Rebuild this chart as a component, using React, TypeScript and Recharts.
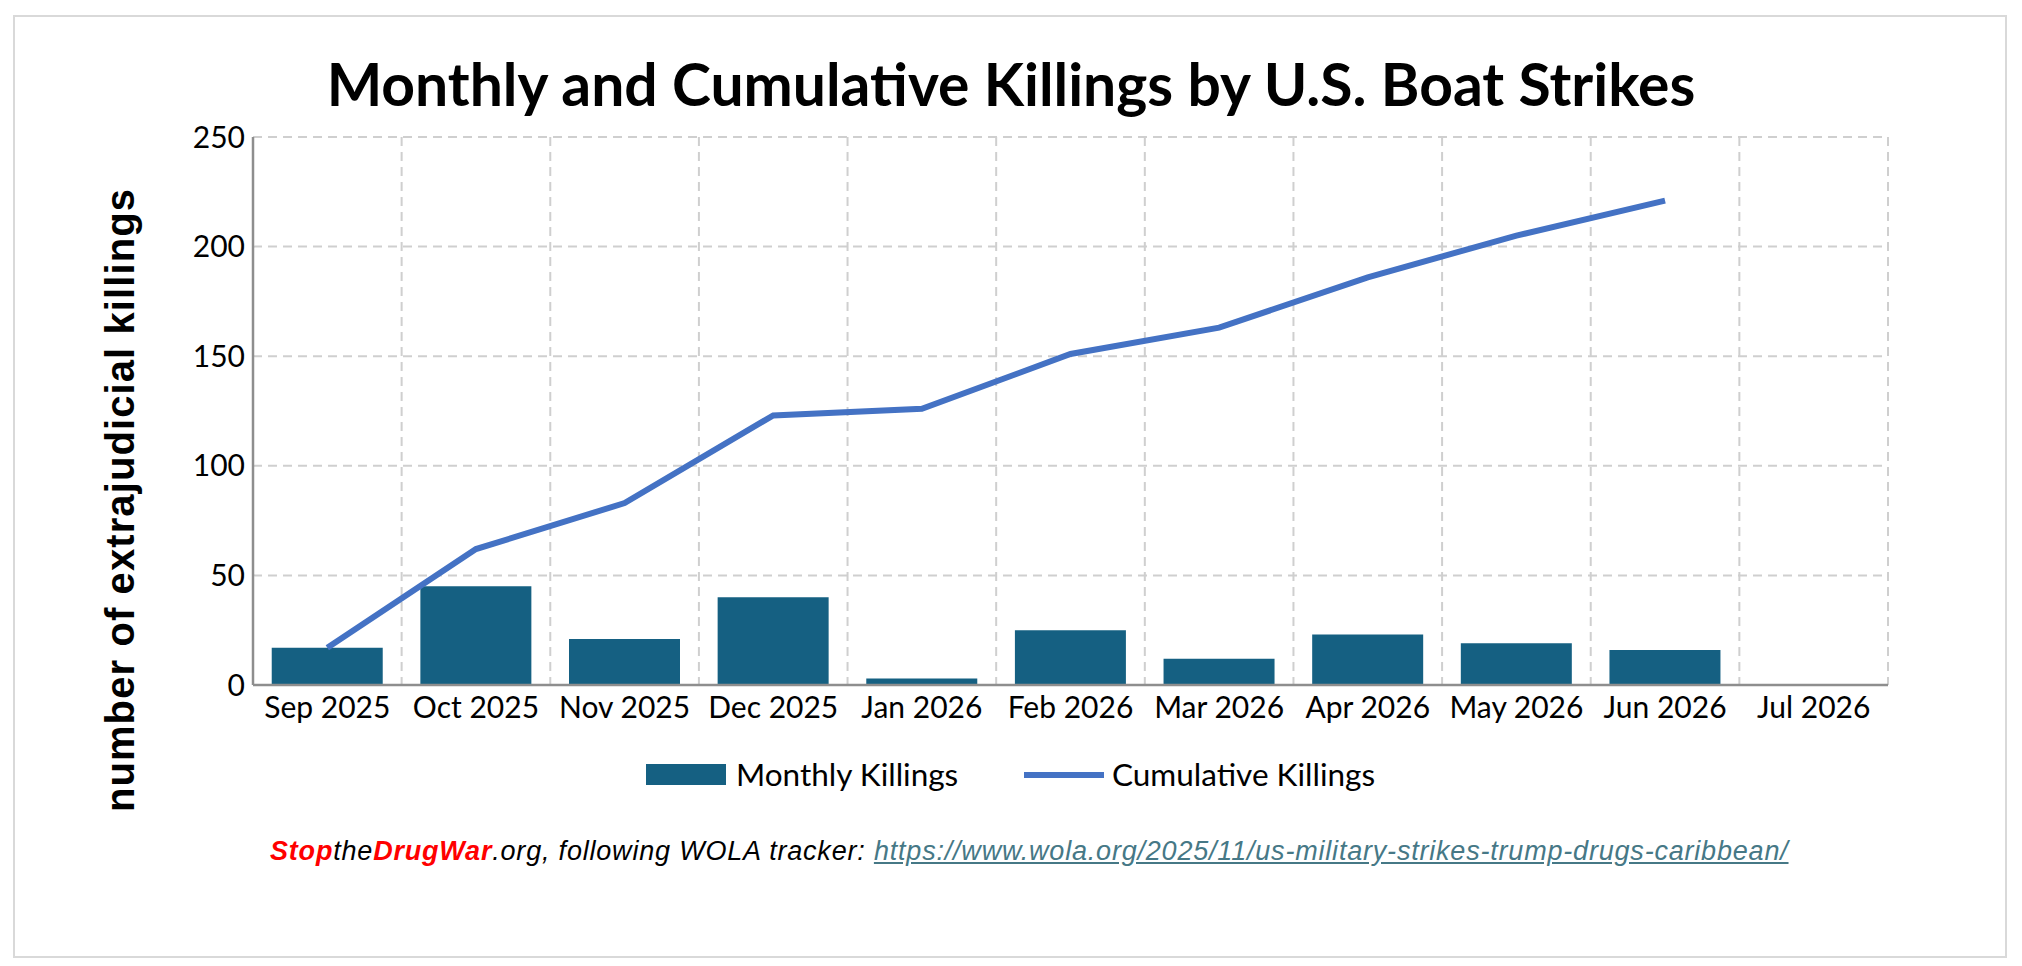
import React from 'react'
import { ComposedChart, Bar, Line, XAxis, YAxis, CartesianGrid } from 'recharts'

const months = [
  'Sep 2025',
  'Oct 2025',
  'Nov 2025',
  'Dec 2025',
  'Jan 2026',
  'Feb 2026',
  'Mar 2026',
  'Apr 2026',
  'May 2026',
  'Jun 2026',
  'Jul 2026',
]
const monthlyKillings = [17, 45, 21, 40, 3, 25, 12, 23, 19, 16, null]
const cumulativeKillings = [17, 62, 83, 123, 126, 151, 163, 186, 205, 221, null]
const yTicks = [0, 50, 100, 150, 200, 250]

const seriesNames = { monthly: 'Monthly Killings', cumulative: 'Cumulative Killings' }
const barColor = '#156082'
const lineColor = '#4472c4'

const data = months.map((month, i) => ({
  month,
  monthly: monthlyKillings[i],
  cumulative: cumulativeKillings[i],
}))

const W = 2022
const H = 966
const yAxisWidth = 80
const xAxisHeight = 50

const tickStyle = { fontFamily: 'Lato', fontSize: 30, fill: '#000' }

// vertical grid lines sit on the category boundaries, not the centres
const boundaryLines = ({ offset }: any) =>
  months.map((_, i) => offset.left + ((i + 1) * offset.width) / months.length)

export default function App() {
  return (
    <div style={{ position: 'absolute', left: 0, top: 0, width: W, height: H, background: '#fff' }}>
      <div
        style={{
          position: 'absolute',
          left: 13,
          top: 15,
          width: 1990,
          height: 939,
          border: '2px solid #d9d9d9',
        }}
      />
      <div
        style={{
          position: 'absolute',
          left: 0,
          width: W,
          top: 44,
          textAlign: 'center',
          fontFamily: 'Lato',
          fontWeight: 700,
          fontSize: 58.8,
          lineHeight: '80px',
          color: '#000',
        }}
      >
        Monthly and Cumulative Killings by U.S. Boat Strikes
      </div>

      <div style={{ position: 'absolute', left: 0, top: 0 }}>
        <ComposedChart
          width={W}
          height={H}
          data={data}
          margin={{ top: 137, right: W - 1888, bottom: H - 685 - xAxisHeight, left: 253 - yAxisWidth }}
          barCategoryGap="12.6%"
        >
          <CartesianGrid
            stroke="#cfcfcf"
            strokeWidth={2}
            strokeDasharray="9 6"
            verticalCoordinatesGenerator={boundaryLines}
          />
          <XAxis
            dataKey="month"
            height={xAxisHeight}
            tick={tickStyle}
            tickLine={false}
            tickSize={6}
            tickMargin={6}
            axisLine={{ stroke: '#8e8e8e', strokeWidth: 2.5 }}
            interval={0}
          />
          <YAxis
            width={yAxisWidth}
            domain={[0, 250]}
            ticks={yTicks}
            tick={tickStyle}
            tickLine={false}
            axisLine={{ stroke: '#8e8e8e', strokeWidth: 2.5 }}
          />
          <Bar dataKey="monthly" name={seriesNames.monthly} fill={barColor} isAnimationActive={false} />
          <Line
            dataKey="cumulative"
            name={seriesNames.cumulative}
            stroke={lineColor}
            strokeWidth={6}
            dot={false}
            activeDot={false}
            type="linear"
            isAnimationActive={false}
          />
        </ComposedChart>
      </div>

      <svg style={{ position: 'absolute', left: 0, top: 0 }} width={200} height={H}>
        <text
          transform="translate(134 500) rotate(-90)"
          textAnchor="middle"
          fontFamily="Liberation Sans"
          fontWeight={700}
          fontSize={40}
          letterSpacing={1.1}
          fill="#000"
        >
          number of extrajudicial killings
        </text>
      </svg>

      <div
        style={{
          position: 'absolute',
          left: 0,
          width: W,
          top: 752,
          fontFamily: 'Lato',
          fontSize: 31.5,
          color: '#000',
        }}
      >
        <div style={{ position: 'absolute', left: 646, top: 12, width: 80, height: 21, background: barColor }} />
        <div style={{ position: 'absolute', left: 736, top: 0, lineHeight: '44px' }}>{seriesNames.monthly}</div>
        <div style={{ position: 'absolute', left: 1024, top: 20, width: 80, height: 6, background: lineColor }} />
        <div style={{ position: 'absolute', left: 1112, top: 0, lineHeight: '44px' }}>{seriesNames.cumulative}</div>
      </div>

      <div
        style={{
          position: 'absolute',
          left: 270,
          top: 832,
          fontFamily: 'Liberation Sans',
          fontStyle: 'italic',
          fontSize: 27,
          letterSpacing: 0.8,
          lineHeight: '38px',
          color: '#000',
          whiteSpace: 'nowrap',
        }}
      >
        <span style={{ color: '#ff0000', fontWeight: 700 }}>Stop</span>
        the
        <span style={{ color: '#ff0000', fontWeight: 700 }}>DrugWar</span>
        .org, following WOLA tracker:{' '}
        <span style={{ color: '#467886', textDecoration: 'underline' }}>
          https://www.wola.org/2025/11/us-military-strikes-trump-drugs-caribbean/
        </span>
      </div>
    </div>
  )
}
